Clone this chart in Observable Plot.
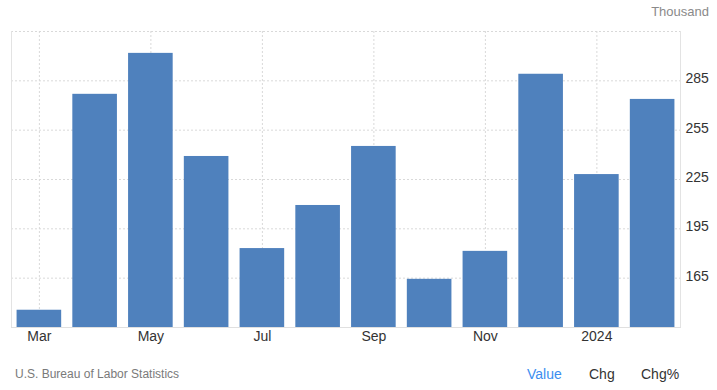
<!DOCTYPE html>
<html>
<head>
<meta charset="utf-8">
<script src="https://cdn.jsdelivr.net/npm/d3@7"></script>
<script src="https://cdn.jsdelivr.net/npm/@observablehq/plot@0.6"></script>
<style>
  html, body { margin: 0; padding: 0; background: #fff; }
  body { width: 717px; height: 390px; overflow: hidden; font-family: "Liberation Sans", Arial, sans-serif; }
  #head { position: relative; height: 20px; }
  #unit { position: absolute; right: 8px; top: 4px; font-size: 13px; color: #8a8a8a; }
  #foot { position: relative; height: 40px; }
  .ft { position: absolute; top: 16px; font-size: 14px; color: #333; }
  #src { left: 15px; font-size: 12px; color: #7a7a7a; top: 17px; }
</style>
</head>
<body>
<div id="head"><span id="unit">Thousand</span></div>
<div id="chart"></div>
<div id="foot">
  <span class="ft" id="src">U.S. Bureau of Labor Statistics</span>
  <span class="ft" style="left:527px;color:#3c8ef0;">Value</span>
  <span class="ft" style="left:589px;">Chg</span>
  <span class="ft" style="left:641px;">Chg%</span>
</div>
<script>
const months = ["2023-03","2023-04","2023-05","2023-06","2023-07","2023-08","2023-09","2023-10","2023-11","2023-12","2024-01","2024-02"];
const values = [145.5, 276.8, 301.7, 239, 183, 209.2, 245.1, 164.3, 181.3, 289, 228, 273.7];
const tickMonths = ["2023-03","2023-05","2023-07","2023-09","2023-11","2024-01"];
const tickLabels = ["Mar","May","Jul","Sep","Nov","2024"];
const yTicks = [165, 195, 225, 255, 285];
const yGrid = [165, 195, 225, 255, 285, 315];

const data = months.map((m, i) => ({month: m, value: values[i]}));
const labelOf = new Map(tickMonths.map((m, i) => [m, tickLabels[i]]));

const chart = Plot.plot({
  width: 717,
  height: 330,
  marginTop: 11,
  marginBottom: 23,
  marginLeft: 11,
  marginRight: 37,
  style: {fontFamily: '"Liberation Sans", Arial, sans-serif', fontSize: "14px", color: "#333", background: "#fff"},
  x: {type: "band", domain: months, paddingInner: 0.2, paddingOuter: 0.1, round: false},
  y: {domain: [135, 315]},
  marks: [
    Plot.gridY(yGrid, {stroke: "#d9d9d9", strokeOpacity: 1, strokeDasharray: "2,2"}),
    Plot.gridX(tickMonths, {stroke: "#d9d9d9", strokeOpacity: 1, strokeDasharray: "2,2"}),
    Plot.frame({anchor: "left", stroke: "#e3e3e3"}),
    Plot.frame({anchor: "right", stroke: "#e3e3e3"}),
    Plot.barY(data, {x: "month", y1: 135, y2: "value", fill: "#4f81bd"}),
    Plot.frame({anchor: "bottom", stroke: "#e0e0e0"}),
    Plot.axisX(tickMonths, {tickSize: 0, tickPadding: 4, tickFormat: d => labelOf.get(d), fill: "#333", fontSize: 14, label: null}),
    Plot.axisY(yTicks, {anchor: "right", tickSize: 0, tickPadding: 5, dy: -2, fill: "#333", fontSize: 14, label: null})
  ]
});
document.getElementById("chart").appendChild(chart);
</script>
</body>
</html>
